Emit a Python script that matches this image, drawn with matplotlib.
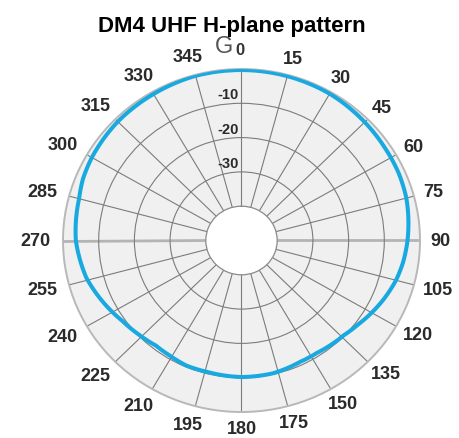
import numpy as np
import matplotlib
matplotlib.use('Agg')
import matplotlib.pyplot as plt

plt.rcParams['font.family'] = ['Liberation Sans', 'DejaVu Sans']

# measured H-plane gain (dB) vs azimuth (deg, clockwise from north)
azimuth_deg = [0, 15, 30, 45, 56, 66, 75, 90, 98, 105, 113, 120, 127, 134, 147,
               155, 167, 180, 194, 203, 211, 218, 226, 235, 245, 256, 270, 285,
               292, 300, 315, 330, 345, 360]
gain_db = [-0.3, -0.4, -0.6, -1.2, -1.6, -1.8, -2.2, -3.5, -4.3, -5.2, -6.6, -7.9,
           -9.2, -10.2, -11.0, -11.0, -10.3, -10.2, -10.5, -10.4, -10.9, -11.1,
           -10.3, -9.2, -7.3, -5.2, -3.6, -2.9, -2.1, -1.6, -1.0, -0.7, -0.3, -0.3]

theta_ticks = list(range(0, 360, 15))
theta_labels = ['G', '15', '30', '45', '60', '75', '90', '105', '120', '135', '150',
                '175', '180', '195', '210', '225', '240', '255', '270', '285', '300',
                '315', '330', '345']
ring_ticks = [-30, -20, -10]
ring_labels = ['-30', '-20', '-10']

fig = plt.figure(figsize=(4.6, 4.39), dpi=100)
ax = fig.add_axes([63 / 460, 1 - 413 / 439, 357 / 460, 343 / 439], projection='polar')
ax.set_aspect('auto')
ax.set_theta_zero_location('N')
ax.set_theta_direction(-1)
ax.set_rlim(-40, 0)
ax.set_rorigin(-50)
ax.patch.set_facecolor('#f0f0f0')

ax.set_xticks(np.radians(theta_ticks))
ax.set_xticklabels([])
ax.set_yticks(ring_ticks)
ax.set_yticklabels([])
ax.tick_params(length=0)
ax.grid(True, color='#7c7c7c', linewidth=0.8)
for t, gl in zip(theta_ticks, ax.xaxis.get_gridlines()):
    if t in (90, 270):
        gl.set_color('#b4b4b4')
        gl.set_linewidth(2.0)

ax.spines['polar'].set_color('#b8b8b8')
ax.spines['polar'].set_linewidth(1.4)
ax.spines['inner'].set_color('#8a8a8a')
ax.spines['inner'].set_linewidth(0.9)

line, = ax.plot(np.radians(azimuth_deg), gain_db, color='#19a9e1', linewidth=2.9,
                solid_capstyle='round', solid_joinstyle='round', zorder=5)
# let the polar transform bend each segment along the arc
line.get_path()._interpolation_steps = 24

# azimuth labels around the rim
for t, lab in zip(theta_ticks, theta_labels):
    a = np.radians(t)
    s, c = np.sin(a), np.cos(a)
    if t == 0:
        ax.annotate('G', xy=(0, 0), xytext=(-8, 17), textcoords='offset pixels',
                    ha='right', va='baseline', fontsize=17, color='#555555',
                    annotation_clip=False)
        ax.annotate('0', xy=(0, 0), xytext=(-6, 15), textcoords='offset pixels',
                    ha='left', va='baseline', fontsize=12, fontweight='bold',
                    color='#333333', annotation_clip=False)
        continue
    w = 10.0 * len(lab)
    h = 13.0
    gap = 10.0 if s >= 0 else 13.0
    dx = (gap + w / 2) * s
    dy = (gap + h / 2) * c
    ax.annotate(lab, xy=(a, 0), xytext=(dx, dy), textcoords='offset pixels',
                ha='center', va='center', fontsize=13, fontweight='bold',
                color='#2a2a2a', annotation_clip=False)

# dB ring labels along the 0 deg spoke
for r, lab in zip(ring_ticks, ring_labels):
    ax.annotate(lab, xy=(0, r), xytext=(-3, 2), textcoords='offset pixels',
                ha='right', va='bottom', fontsize=10.5, fontweight='bold',
                color='#2a2a2a', annotation_clip=False)

fig.text(232 / 460, 1 - 32 / 439, 'DM4 UHF H-plane pattern', ha='center',
         va='baseline', fontsize=16, fontweight='bold', color='black')

fig.savefig('out.png', dpi=100)
